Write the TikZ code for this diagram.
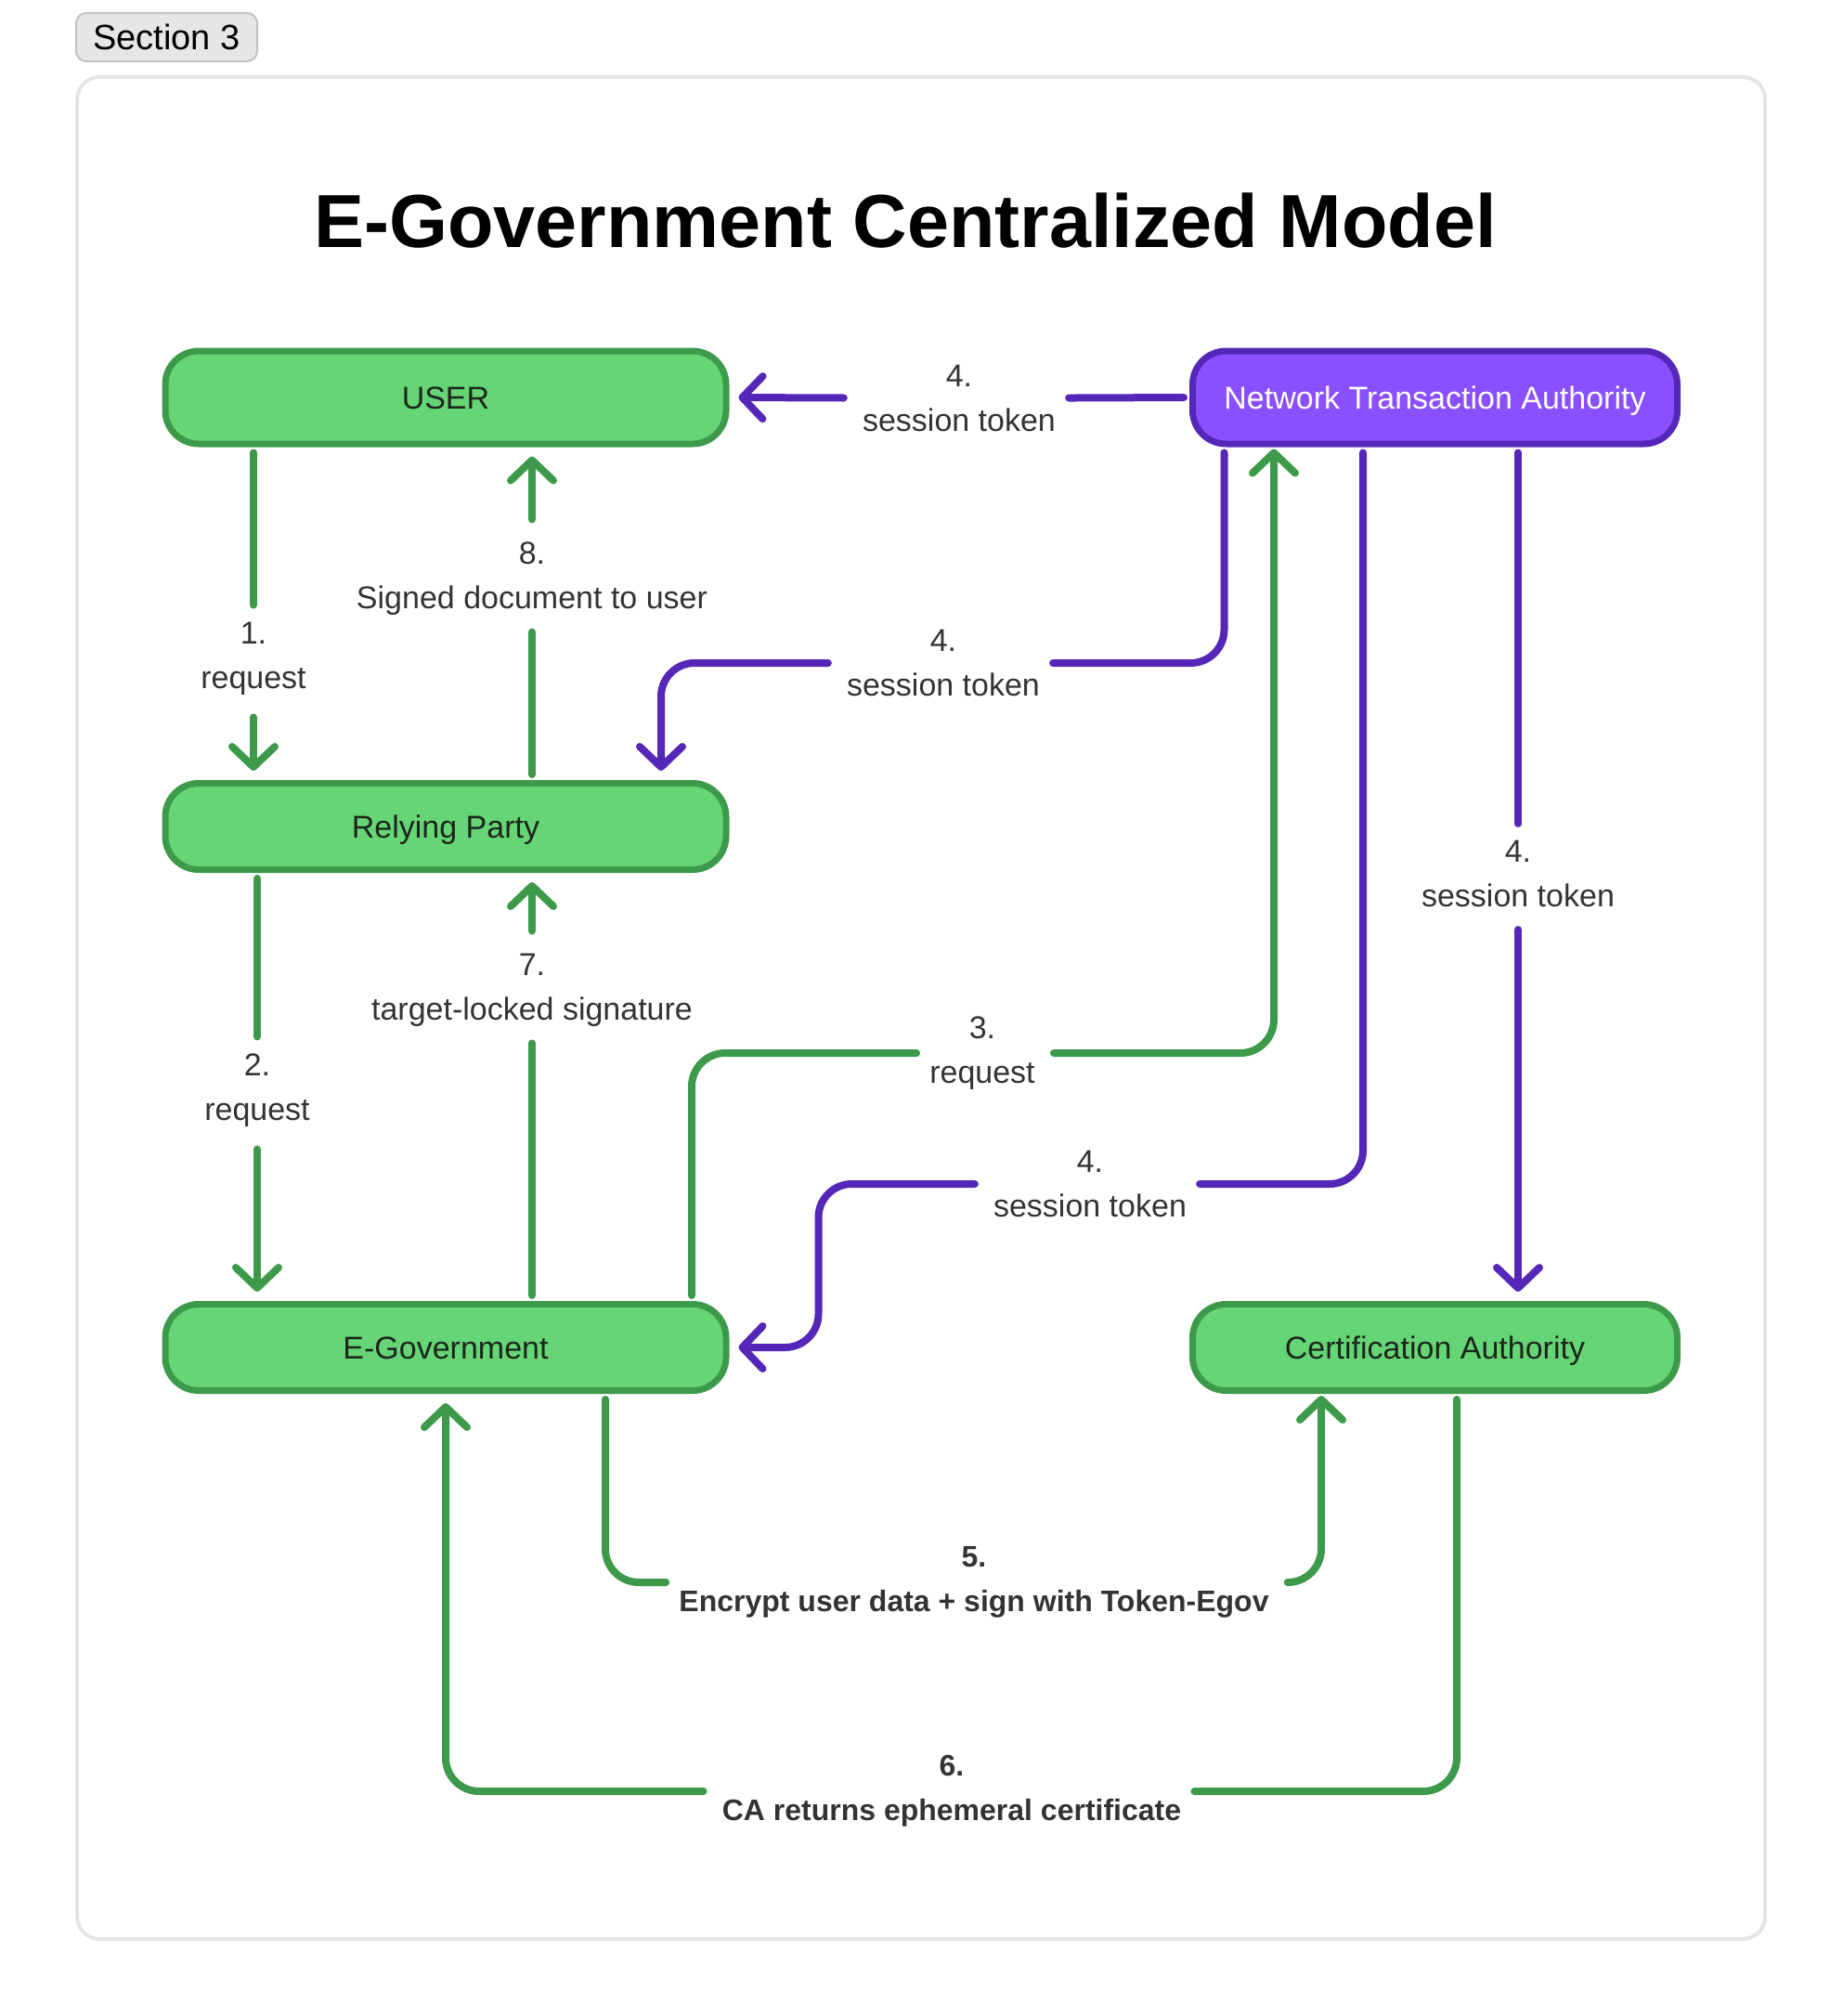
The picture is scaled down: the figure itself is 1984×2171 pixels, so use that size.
\documentclass[tikz,border=0pt]{standalone}
\usepackage{fontspec}
\setmainfont{Liberation Sans}
\usetikzlibrary{calc,positioning,arrows.meta}
\definecolor{boxgreen}{HTML}{66D575}
\definecolor{edgegreen}{HTML}{3D9A4A}
\definecolor{boxpurple}{HTML}{8A50FF}
\definecolor{edgepurple}{HTML}{5427B8}
\definecolor{nodetext}{HTML}{1C261C}
\definecolor{labelgray}{HTML}{333333}
\definecolor{framegray}{HTML}{E4E4E4}
\definecolor{tabfill}{HTML}{E6E6E6}
\definecolor{tabdraw}{HTML}{C2C2C2}

\begin{document}
\begin{tikzpicture}[x=1pt,y=-1pt,
  greenbox/.style={rectangle,rounded corners=36pt,draw=edgegreen,fill=boxgreen,line width=7pt,minimum width=604pt,minimum height=93pt,text height=24.5pt,text depth=0pt,font=\fontsize{34}{40}\selectfont,text=nodetext},
  purplebox/.style={greenbox,draw=edgepurple,fill=boxpurple,text=white},
  steplabel/.style={align=center,inner xsep=14pt,inner ysep=18pt,font=\fontsize{34}{48}\selectfont,text=labelgray},
  greenline/.style={draw=edgegreen,line width=8pt,line cap=round,line join=round,rounded corners=36pt,shorten <=6pt},
  purpleline/.style={greenline,draw=edgepurple},
  arrowend/.style={-{Straight Barb[round,length=22pt,width=46pt]},shorten >=10pt},
  ]

  \useasboundingbox (0,0) rectangle (1984,2171);

  %frame and tab
  \draw[framegray,line width=4pt,rounded corners=24pt] (83,83) rectangle (1901,2088);
  \node (tab) [rectangle,rounded corners=11pt,draw=tabdraw,fill=tabfill,line width=2pt,minimum width=195pt,minimum height=52pt,font=\fontsize{38}{44}\selectfont] at (179.5,40) {Section 3};

  %title
  \node (title) [font=\fontsize{81}{96}\selectfont\bfseries] at (975,238) {E-Government Centralized Model};

  %parties
  \node (user) [greenbox,minimum height=100pt] at (480,428) {USER};
  \node (nta) [purplebox,minimum width=522pt,minimum height=100pt] at (1545.5,428) {Network Transaction Authority};
  \node (rp) [greenbox] at (480,890) {Relying Party};
  \node (egov) [greenbox] at (480,1451) {E-Government};
  \node (ca) [greenbox,minimum width=522pt] at (1545.5,1451) {Certification Authority};

  %step labels
  \node (lbl1) [steplabel] at (273,709) {1.\\request};
  \node (lbl2) [steplabel] at (277,1174) {2.\\request};
  \node (lbl3) [steplabel] at (1058,1134) {3.\\request};
  \node (lbl4a) [steplabel] at (1033,429) {4.\\session token};
  \node (lbl4b) [steplabel] at (1016,714) {4.\\session token};
  \node (lbl4c) [steplabel] at (1174,1275) {4.\\session token};
  \node (lbl4d) [steplabel] at (1635,941) {4.\\session token};
  \node (lbl5) [steplabel,font=\fontsize{32}{48}\selectfont\bfseries] at (1049,1704) {5.\\Encrypt user data + sign with Token-Egov};
  \node (lbl6) [steplabel,font=\fontsize{32}{48}\selectfont\bfseries] at (1025,1929) {6.\\CA returns ephemeral certificate};
  \node (lbl7) [steplabel] at (573,1066) {7.\\target-locked signature};
  \node (lbl8) [steplabel] at (573,623) {8.\\Signed document to user};

  %1. and 2. request
  \draw[greenline] (user.south -| lbl1) -- (lbl1);
  \draw[greenline,arrowend] (lbl1) -- (rp.north -| lbl1);
  \draw[greenline] (rp.south -| lbl2) -- (lbl2);
  \draw[greenline,arrowend] (lbl2) -- (egov.north -| lbl2);

  %3. request
  \draw[greenline] ($(egov.north)+(265,0)$) |- (lbl3);
  \draw[greenline,arrowend,shorten >=2pt] (lbl3) -| ($(nta.south)+(-173.5,0)$);

  %4. session token
  \draw[purpleline] (nta.west) -- (lbl4a);
  \draw[purpleline,arrowend] (lbl4a) -- (user.east);
  \draw[purpleline] ($(nta.south)+(-227,0)$) |- (lbl4b);
  \draw[purpleline,arrowend] (lbl4b) -| ($(rp.north)+(232,0)$);
  \draw[purpleline] ($(nta.south)+(-77.5,0)$) |- (lbl4c);
  \draw[purpleline,arrowend] (lbl4c) -| ($(egov.east)+(96,0)$) -- (egov.east);
  \draw[purpleline] (nta.south -| lbl4d) -- (lbl4d);
  \draw[purpleline,arrowend] (lbl4d) -- (ca.north -| lbl4d);

  %5. encrypt and sign
  \draw[greenline] ($(egov.south)+(172,0)$) |- (lbl5);
  \draw[greenline,arrowend,shorten >=2pt] (lbl5) -| ($(ca.south)+(-122.5,0)$);

  %6. certificate back
  \draw[greenline] ($(ca.south)+(23.5,0)$) |- (lbl6);
  \draw[greenline,arrowend] (lbl6) -| (egov.south);

  %7. and 8. back up
  \draw[greenline] (egov.north -| lbl7) -- (lbl7);
  \draw[greenline,arrowend] (lbl7) -- (rp.south -| lbl7);
  \draw[greenline] (rp.north -| lbl8) -- (lbl8);
  \draw[greenline,arrowend] (lbl8) -- (user.south -| lbl8);

\end{tikzpicture}
\end{document}
